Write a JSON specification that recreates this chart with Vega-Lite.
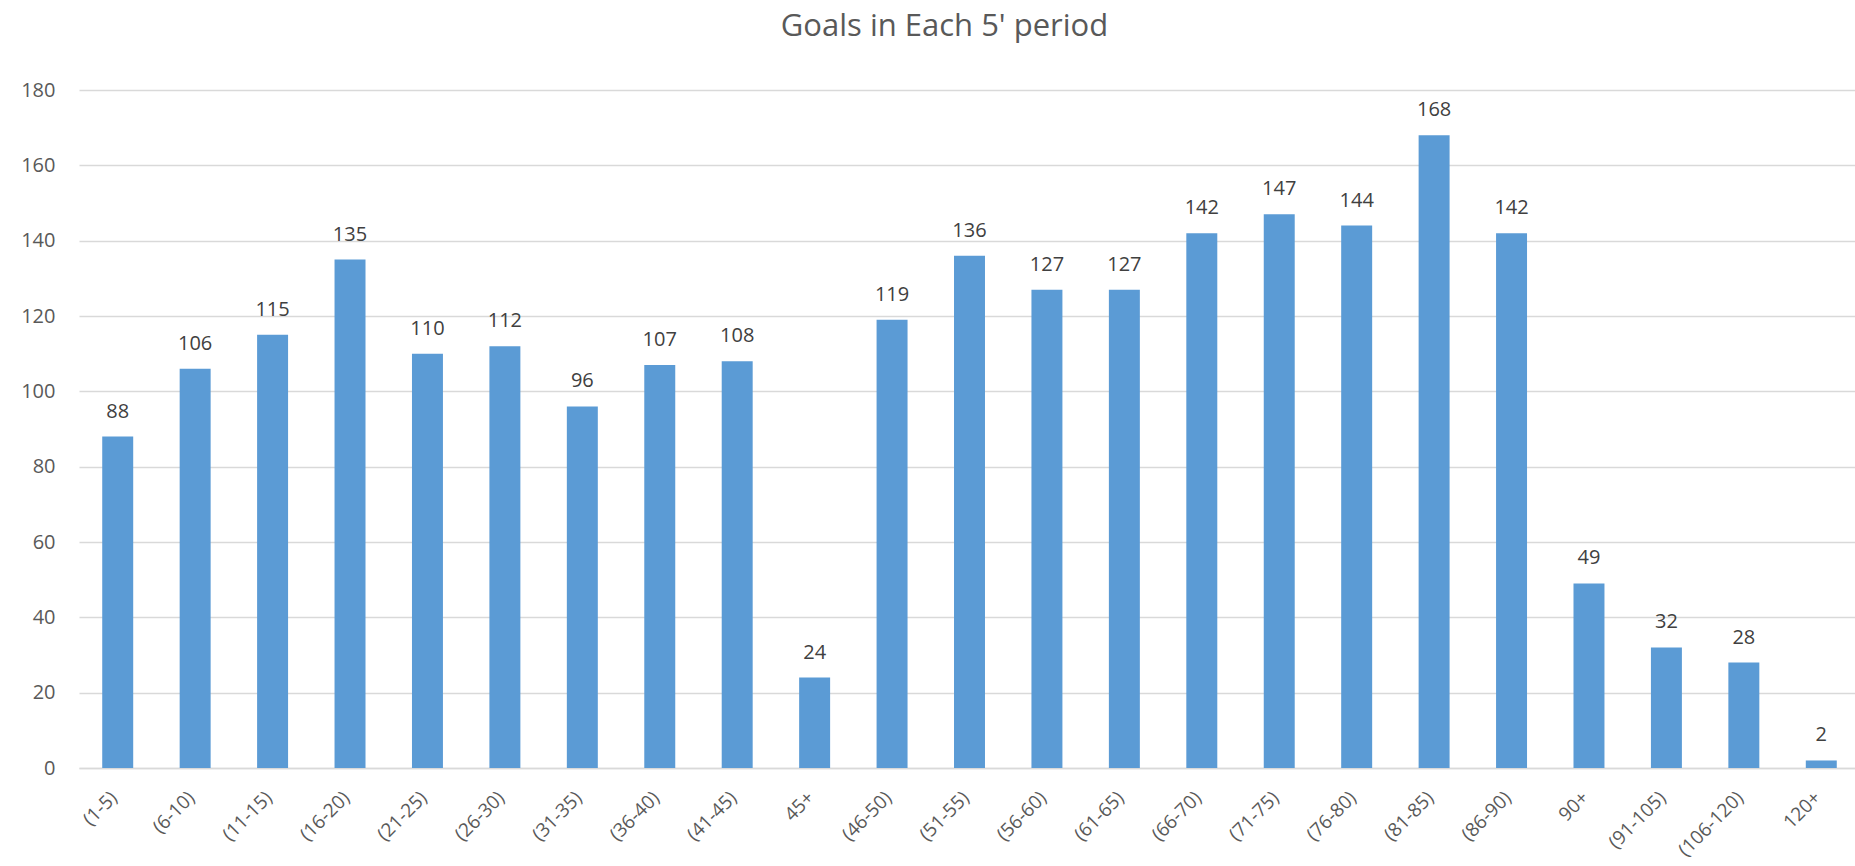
{
  "$schema": "https://vega.github.io/schema/vega-lite/v6.json",
  "width": 1781,
  "height": 678,
  "autosize": "none",
  "padding": {"left": 79, "top": 90, "right": 0, "bottom": 98},
  "background": "white",
  "title": {
    "text": "Goals in Each 5' period",
    "font": "Open Sans",
    "fontSize": 31,
    "fontWeight": "normal",
    "color": "#595959",
    "anchor": "middle",
    "dx": -25,
    "offset": 37
  },
  "data": {
    "values": [
      {"period": "(1-5)", "goals": 88},
      {"period": "(6-10)", "goals": 106},
      {"period": "(11-15)", "goals": 115},
      {"period": "(16-20)", "goals": 135},
      {"period": "(21-25)", "goals": 110},
      {"period": "(26-30)", "goals": 112},
      {"period": "(31-35)", "goals": 96},
      {"period": "(36-40)", "goals": 107},
      {"period": "(41-45)", "goals": 108},
      {"period": "45+", "goals": 24},
      {"period": "(46-50)", "goals": 119},
      {"period": "(51-55)", "goals": 136},
      {"period": "(56-60)", "goals": 127},
      {"period": "(61-65)", "goals": 127},
      {"period": "(66-70)", "goals": 142},
      {"period": "(71-75)", "goals": 147},
      {"period": "(76-80)", "goals": 144},
      {"period": "(81-85)", "goals": 168},
      {"period": "(86-90)", "goals": 142},
      {"period": "90+", "goals": 49},
      {"period": "(91-105)", "goals": 32},
      {"period": "(106-120)", "goals": 28},
      {"period": "120+", "goals": 2}
    ]
  },
  "encoding": {
    "x": {
      "field": "period",
      "type": "nominal",
      "sort": null,
      "scale": {"paddingInner": 0.6, "paddingOuter": 0.3},
      "axis": {
        "title": null,
        "labelAngle": -45,
        "labelFont": "Open Sans",
        "labelFontSize": 19,
        "labelColor": "#595959",
        "labelPadding": 20,
        "labelOffset": -10,
        "ticks": false,
        "domainColor": "#D9D9D9",
        "domainWidth": 1.5,
        "grid": false
      }
    },
    "y": {
      "field": "goals",
      "type": "quantitative",
      "scale": {"domain": [0, 180], "nice": false},
      "axis": {
        "title": null,
        "values": [0, 20, 40, 60, 80, 100, 120, 140, 160, 180],
        "labelFont": "Open Sans",
        "labelFontSize": 20,
        "labelColor": "#595959",
        "labelPadding": 24,
        "ticks": false,
        "domain": false,
        "grid": true,
        "gridColor": "#D9D9D9",
        "gridWidth": 1.5
      }
    }
  },
  "layer": [
    {"mark": {"type": "bar", "color": "#5B9BD5"}},
    {
      "mark": {
        "type": "text",
        "font": "Open Sans",
        "fontSize": 20,
        "color": "#404040",
        "baseline": "alphabetic",
        "dy": -19
      },
      "encoding": {"text": {"field": "goals", "type": "quantitative"}}
    }
  ],
  "config": {"view": {"stroke": null}}
}
